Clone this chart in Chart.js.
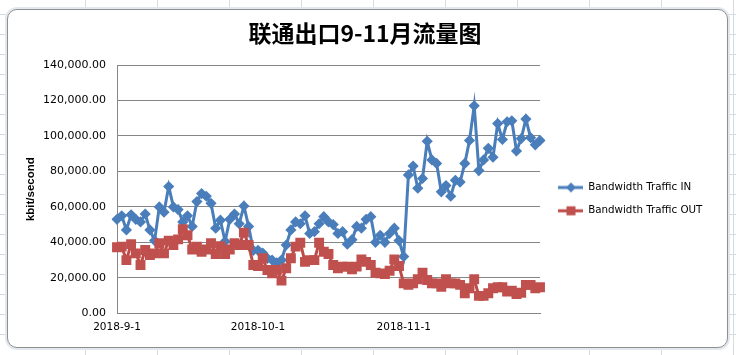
<!DOCTYPE html>
<html>
<head>
<meta charset="utf-8">
<script src="https://cdn.jsdelivr.net/npm/chart.js@4.4.1/dist/chart.umd.min.js"></script>
<style>
  html, body { margin: 0; padding: 0; }
  body {
    width: 736px; height: 355px; overflow: hidden; position: relative;
    background-color: #ffffff;
    background-image:
      repeating-linear-gradient(to right, transparent 0, transparent 71px, #d6dbe2 71px, #d6dbe2 72px),
      repeating-linear-gradient(to bottom, transparent 0, transparent 19px, #d6dbe2 19px, #d6dbe2 20px);
    background-position: 14px 0, 0 -5px;
  }
  #frame {
    position: absolute; left: 7px; top: 9px; width: 719px; height: 337px;
    border: 1px solid #8f8f8f; border-radius: 10px; background: #ffffff;
    box-shadow: 0 0 0 2px #e3e8ee;
  }
  #c { position: absolute; left: 0; top: 0; }
</style>
</head>
<body>
<div id="frame"></div>
<canvas id="c" width="736" height="355"></canvas>
<script>
const chartTitle = '联通出口9-11月流量图';
const yTitle = 'kbit/second';
const seriesNames = ['Bandwidth Traffic IN', 'Bandwidth Traffic OUT'];

const dates = [
  '2018-9-1','2018-9-2','2018-9-3','2018-9-4','2018-9-5','2018-9-6','2018-9-7','2018-9-8','2018-9-9','2018-9-10',
  '2018-9-11','2018-9-12','2018-9-13','2018-9-14','2018-9-15','2018-9-16','2018-9-17','2018-9-18','2018-9-19','2018-9-20',
  '2018-9-21','2018-9-22','2018-9-23','2018-9-24','2018-9-25','2018-9-26','2018-9-27','2018-9-28','2018-9-29','2018-9-30',
  '2018-10-1','2018-10-2','2018-10-3','2018-10-4','2018-10-5','2018-10-6','2018-10-7','2018-10-8','2018-10-9','2018-10-10',
  '2018-10-11','2018-10-12','2018-10-13','2018-10-14','2018-10-15','2018-10-16','2018-10-17','2018-10-18','2018-10-19','2018-10-20',
  '2018-10-21','2018-10-22','2018-10-23','2018-10-24','2018-10-25','2018-10-26','2018-10-27','2018-10-28','2018-10-29','2018-10-30','2018-10-31',
  '2018-11-1','2018-11-2','2018-11-3','2018-11-4','2018-11-5','2018-11-6','2018-11-7','2018-11-8','2018-11-9','2018-11-10',
  '2018-11-11','2018-11-12','2018-11-13','2018-11-14','2018-11-15','2018-11-16','2018-11-17','2018-11-18','2018-11-19','2018-11-20',
  '2018-11-21','2018-11-22','2018-11-23','2018-11-24','2018-11-25','2018-11-26','2018-11-27','2018-11-28','2018-11-29','2018-11-30'
];
const tickLabels = ['2018-9-1', '2018-10-1', '2018-11-1'];

const trafficIn = [
  53000,55000,47000,55500,53000,51500,56000,47000,41000,60000,
  57000,71500,60000,58500,51500,55000,49000,63000,67500,66000,
  62000,48000,52500,40500,53000,56000,50500,60500,49000,35500,
  35500,34000,31000,30000,28500,30000,38500,47000,51500,50500,
  55000,45000,46000,50500,54500,51500,50000,45000,46000,39000,
  41500,49000,48000,53000,54500,40000,44000,40000,45000,48000,41000,
  32000,78000,83000,70500,76000,97000,86500,84500,68500,72000,
  66000,75000,74000,84500,97500,117000,80500,86500,93000,88000,
  107000,98000,108000,108500,91500,98500,109500,99000,95000,97500
];
const trafficOut = [
  37200,37600,30000,39000,33800,27200,35700,32900,33800,39500,
  33800,41000,38500,41700,47400,44000,36000,37600,34700,36000,
  39500,33400,37900,33400,36000,39500,38500,45500,38500,27200,
  26700,31000,24400,22500,24400,18400,25400,31000,37600,39800,
  29000,30000,30000,39800,34700,33400,27200,25400,26300,26300,
  24800,26300,30400,29000,27200,22900,22500,22200,24000,30400,26700,
  16900,16000,16900,19200,22900,18800,16900,16900,15000,19200,
  16900,16900,16000,11300,14100,19200,9800,9800,11300,14100,
  14700,14700,12200,12700,10900,11600,16000,16000,14100,14700
];
const yTicks = [0, 20000, 40000, 60000, 80000, 100000, 120000, 140000];

const colors = {
  inLine: '#4A7EBB', inMark: '#4A7EBB',
  outLine: '#BE4B48', outMark: '#C0504D',
  grid: '#868686'
};

function makeIcon(line, mark, shape) {
  const cv = document.createElement('canvas');
  cv.width = 30; cv.height = 12;
  const g = cv.getContext('2d');
  g.strokeStyle = line; g.lineWidth = 3;
  g.beginPath(); g.moveTo(5, 6); g.lineTo(30, 6); g.stroke();
  g.fillStyle = mark;
  const cx = 18, cy = 6;
  if (shape === 'diamond') {
    g.beginPath(); g.moveTo(cx, cy - 5); g.lineTo(cx + 5, cy); g.lineTo(cx, cy + 5); g.lineTo(cx - 5, cy); g.closePath(); g.fill();
  } else {
    g.fillRect(cx - 4.5, cy - 4.5, 9, 9);
  }
  return cv;
}
const legendIcons = [makeIcon(colors.inLine, colors.inMark, 'diamond'), makeIcon(colors.outLine, colors.outMark, 'square')];

const legendFix = {
  id: 'legendFix',
  beforeInit(chart) {
    const lg = chart.legend;
    if (lg) {
      const f = lg.fit;
      lg.fit = function () { f.call(this); this.width = 190; };
    }
  }
};

new Chart(document.getElementById('c'), {
  type: 'line',
  data: {
    labels: dates,
    datasets: [
      {
        label: seriesNames[0], data: trafficIn, order: 1,
        borderColor: colors.inLine, backgroundColor: colors.inMark,
        borderWidth: 3, tension: 0,
        pointStyle: 'rectRot', pointRadius: 5.6, pointBorderWidth: 0,
        pointBackgroundColor: colors.inMark, pointBorderColor: colors.inMark
      },
      {
        label: seriesNames[1], data: trafficOut, order: 0,
        borderColor: colors.outLine, backgroundColor: colors.outMark,
        borderWidth: 3, tension: 0,
        pointStyle: 'rect', pointRadius: 7, pointBorderWidth: 0,
        pointBackgroundColor: colors.outMark, pointBorderColor: colors.outMark
      }
    ]
  },
  options: {
    responsive: false,
    animation: false,
    events: [],
    layout: { padding: { left: 0, right: 6, top: 0, bottom: 20.7 } },
    plugins: {
      tooltip: { enabled: false },
      title: {
        display: true, text: chartTitle, color: '#000',
        font: { family: "'Noto Sans CJK SC', sans-serif", size: 23, weight: 'bold' },
        padding: { top: 19, bottom: 18.4 }
      },
      legend: {
        display: true, position: 'right', fullSize: false, align: 'center',
        title: { display: true, text: ' ', font: { size: 20, lineHeight: 1 }, padding: 0 },
        labels: {
          usePointStyle: true, pointStyleWidth: 30, padding: 13, color: '#000',
          font: { family: "'DejaVu Sans', sans-serif", size: 10.3 },
          sort: (a, b) => a.datasetIndex - b.datasetIndex,
          generateLabels(chart) {
            const items = Chart.defaults.plugins.legend.labels.generateLabels(chart);
            items.forEach(it => { it.pointStyle = legendIcons[it.datasetIndex]; });
            return items;
          }
        }
      }
    },
    scales: {
      x: {
        type: 'category',
        offset: false,
        grid: { display: false, drawTicks: false },
        border: { display: true, color: colors.grid, width: 1 },
        ticks: {
          autoSkip: false, maxRotation: 0, minRotation: 0, padding: 8, color: '#000',
          font: { family: "'DejaVu Sans', sans-serif", size: 10.5 },
          callback(v, i) { const l = dates[i]; return tickLabels.includes(l) ? l : null; }
        },
        afterFit(s) { s.height = 21; }
      },
      y: {
        min: 0, max: 140000,
        afterBuildTicks(s) { s.ticks = yTicks.map(v => ({ value: v })); },
        grid: { color: colors.grid, lineWidth: 1, drawTicks: false },
        border: { display: true, color: colors.grid, width: 1 },
        ticks: {
          padding: 11, color: '#000',
          font: { family: "'DejaVu Sans', sans-serif", size: 11 },
          callback: v => Number(v).toLocaleString('en-US', { minimumFractionDigits: 2, maximumFractionDigits: 2 })
        },
        title: {
          display: true, text: yTitle, color: '#000',
          font: { family: "'Liberation Sans', sans-serif", size: 11.5, weight: 'bold' },
          padding: { top: 24, bottom: 0 }
        },
        afterFit(s) { s.width = 117; }
      }
    }
  },
  plugins: [legendFix]
});
</script>
</body>
</html>
